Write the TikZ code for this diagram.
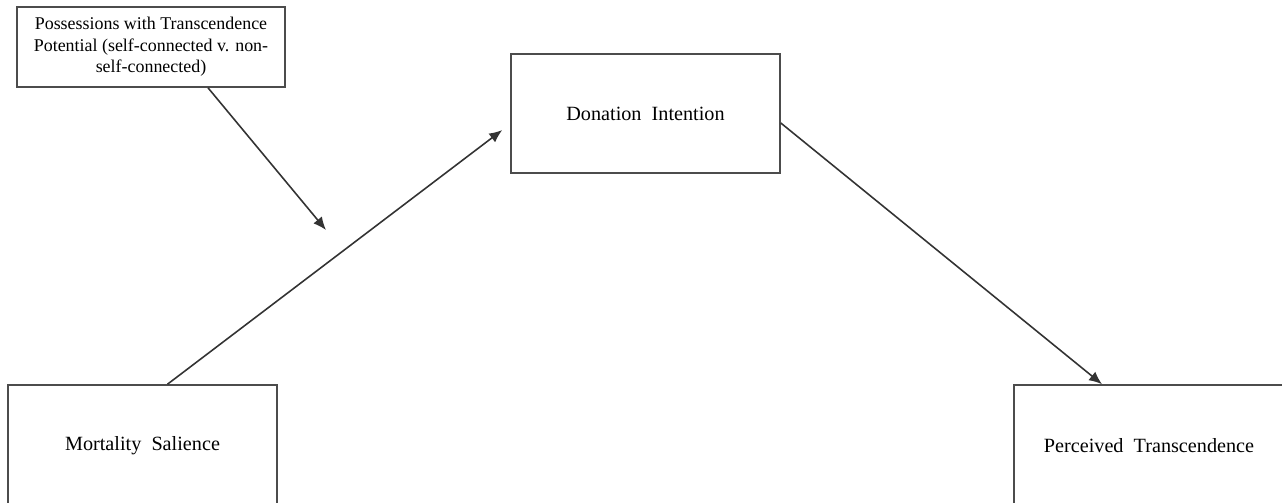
\documentclass[tikz,border=0pt]{standalone}
\usepackage{fontspec}
\setmainfont{Liberation Serif}
\usepackage{tikz}
\usetikzlibrary{arrows.meta, positioning, calc}

\begin{document}
\begin{tikzpicture}[
        box/.style={rectangle, draw=black!70, line width=0.9pt, inner sep=0pt, align=center, font=\fontsize{11.5}{14}\selectfont},
        smallbox/.style={box, font=\fontsize{10.2}{12.2}\selectfont},
        arrow/.style={-{Latex[length=2.6mm, width=2.2mm]}, line width=0.9pt, black!80}
    ]
        \clip (0,0) rectangle (25.64,10.04);

        % Nodes
        \node[smallbox, minimum width=5.36cm, minimum height=1.6cm] (poss) at (3.02,9.10) {Possessions with Transcendence\\Potential (self-connected v. non-\\self-connected)};
        \node[box, minimum width=5.38cm, minimum height=2.38cm] (don) at (12.91,7.77) {Donation~~Intention};
        \node[box, minimum width=5.38cm, minimum height=2.44cm] (mort) at (2.85,1.12) {Mortality~~Salience};
        \node[box, minimum width=5.40cm, minimum height=2.44cm] (perc) at (22.98,1.12) {Perceived~~Transcendence};
        \coordinate (mod) at (6.52,5.44);

        % Arrows
        \draw[arrow] ([xshift=0.5cm]mort.north) -- ([yshift=-0.21cm]don.west) [shorten >=0.2cm];
        \draw[arrow] ([xshift=1.14cm]poss.south) -- (mod);
        \draw[arrow] ([yshift=-0.19cm]don.east) -- ([xshift=-0.94cm]perc.north);
    \end{tikzpicture}
\end{document}
